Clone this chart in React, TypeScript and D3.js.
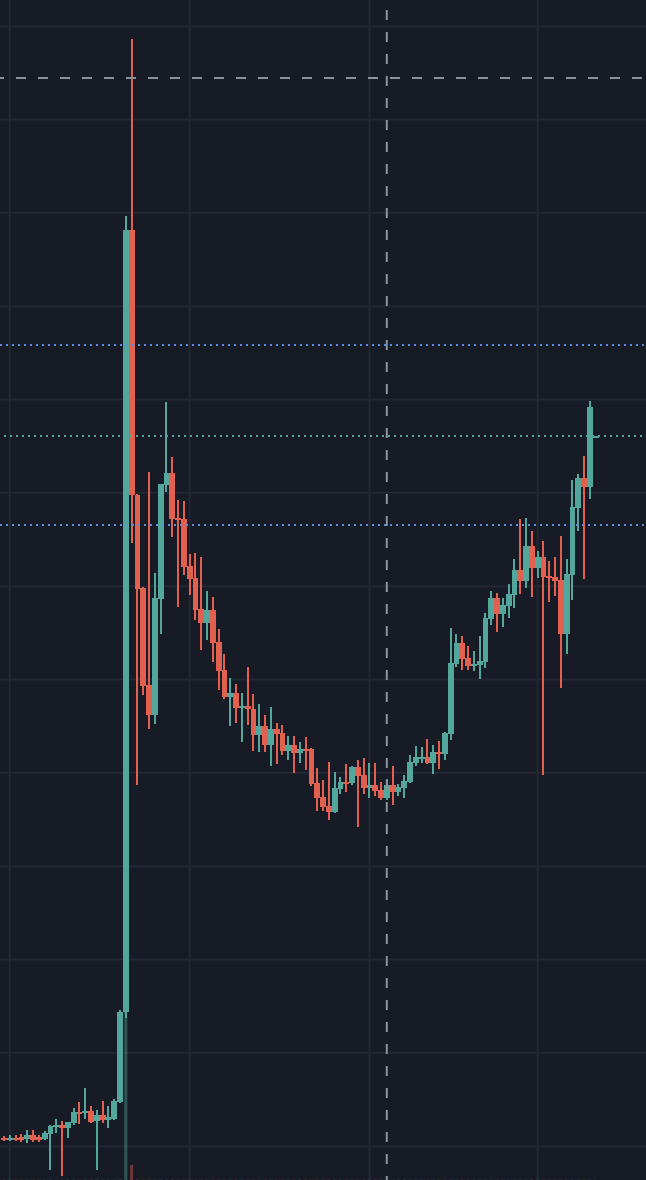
import React from "react";
import * as d3 from "d3";

const W = 646;
const H = 1180;

// OHLC series (price units), one entry per bar
const open = [30.6, 29.85, 30.45, 30.75, 30.15, 31.35, 30.75, 30.15, 31.65, 33.75,
  34.35, 33.45, 34.95, 38.25, 37.95, 38.55, 35.55, 37.35, 35.85, 36.15,
  41.25, 68.25, 302.85, 223.35, 195.45, 166.35, 157.35, 192.15, 226.35, 229.95,
  216.45, 216.15, 202.05, 198.45, 189.15, 184.95, 188.85, 179.25, 170.85, 162.75,
  163.95, 159.45, 160.05, 159.15, 151.35, 154.05, 148.35, 153.15, 151.95, 146.55,
  148.35, 145.95, 147.15, 147.15, 136.95, 132.75, 130.05, 128.25, 135.15, 137.25,
  136.95, 141.75, 139.35, 135.45, 136.35, 134.85, 132.45, 136.35, 134.25, 135.45,
  137.25, 142.95, 144.45, 144.75, 142.95, 146.25, 145.65, 151.65, 172.65, 178.95,
  174.45, 172.05, 172.35, 173.25, 186.15, 192.45, 187.65, 190.05, 193.35, 200.85,
  197.55, 208.05, 201.45, 204.75, 199.05, 198.75, 197.85, 181.65, 199.35, 219.45,
  228.45, 225.75, 240.9];

const high = [31.05, 31.35, 31.26, 31.65, 32.85, 32.85, 31.35, 32.55, 34.35, 36.15,
  35.55, 35.25, 39.45, 41.25, 45.45, 40.05, 38.85, 41.55, 40.05, 42.15,
  68.85, 307.05, 360.15, 223.65, 195.75, 230.25, 199.95, 226.65, 251.25, 234.75,
  221.85, 221.55, 205.65, 205.95, 204.75, 194.55, 192.75, 183.15, 175.65, 168.45,
  166.65, 163.95, 171.75, 163.65, 160.65, 157.35, 159.75, 154.95, 154.35, 151.05,
  151.05, 149.25, 150.75, 147.45, 141.45, 137.85, 143.25, 140.25, 138.75, 142.65,
  142.05, 143.85, 144.45, 142.95, 142.95, 137.25, 138.15, 142.05, 136.65, 139.35,
  145.35, 148.05, 147.75, 150.15, 148.35, 149.55, 152.25, 183.45, 181.65, 181.05,
  178.05, 176.55, 181.05, 187.95, 194.55, 193.95, 192.45, 196.65, 204.15, 216.15,
  216.45, 212.55, 206.55, 209.55, 203.55, 204.75, 211.05, 204.15, 227.85, 229.65,
  235.05, 251.55, 241.05];

const low = [29.55, 29.7, 29.55, 29.25, 28.95, 29.25, 29.25, 30.0, 20.85, 31.95,
  19.05, 30.45, 34.35, 34.65, 36.15, 34.95, 20.85, 34.95, 33.45, 36.0,
  40.95, 66.45, 208.95, 136.35, 163.35, 153.15, 154.65, 181.65, 224.25, 210.75,
  189.75, 199.35, 193.35, 185.85, 176.85, 179.85, 173.25, 164.85, 162.15, 154.05,
  154.95, 149.25, 154.35, 146.55, 146.25, 146.25, 142.05, 142.65, 145.35, 143.85,
  139.95, 142.95, 140.85, 136.05, 128.55, 128.55, 125.85, 127.95, 133.65, 134.25,
  136.35, 123.75, 133.65, 132.45, 133.05, 131.85, 131.85, 130.35, 133.05, 132.45,
  136.95, 142.05, 142.95, 142.65, 139.65, 141.15, 143.85, 149.85, 171.75, 170.85,
  170.85, 170.55, 168.15, 171.45, 184.35, 182.25, 183.75, 186.45, 189.45, 193.65,
  195.45, 192.75, 198.45, 139.35, 191.25, 193.05, 165.45, 175.65, 191.85, 212.55,
  198.15, 222.15, 240.45];

const close = [30.0, 30.45, 29.85, 29.85, 31.35, 29.85, 29.85, 31.95, 34.05, 34.35,
  33.45, 35.25, 38.25, 37.95, 38.55, 35.25, 37.35, 35.85, 36.75, 41.55,
  68.25, 302.85, 223.35, 195.15, 166.05, 157.35, 192.45, 226.65, 229.95, 216.15,
  216.0, 201.75, 198.15, 188.85, 184.95, 188.85, 178.95, 170.55, 162.75, 163.95,
  159.45, 160.05, 159.15, 151.35, 154.05, 148.35, 153.15, 151.65, 146.55, 148.35,
  145.95, 147.15, 146.85, 136.65, 132.45, 129.75, 128.25, 135.45, 137.25, 136.95,
  141.75, 139.05, 135.45, 136.35, 134.55, 132.45, 136.35, 134.25, 135.75, 137.55,
  143.25, 144.75, 144.75, 142.95, 146.25, 145.65, 151.95, 172.95, 178.95, 174.15,
  172.05, 172.65, 173.55, 186.45, 192.45, 187.65, 190.35, 193.65, 200.85, 197.55,
  208.05, 201.45, 204.75, 198.75, 198.45, 197.55, 181.65, 199.65, 219.75, 228.45,
  225.75, 249.75, 241.05];

const volume = [0.1, 0.1, 0.1, 0.1, 0.12, 0.1, 0.1, 0.1, 0.15, 0.1,
  0.15, 0.1, 0.12, 0.1, 0.15, 0.1, 0.15, 0.1, 0.1, 0.12,
  0.18, 100, 6.4, 0.15, 0.1, 0.12, 0.1, 0.12, 0.1, 0.1,
  0.1, 0.1, 0.1, 0.1, 0.1, 0.1, 0.1, 0.1, 0.1, 0.1,
  0.1, 0.1, 0.1, 0.1, 0.1, 0.1, 0.1, 0.1, 0.1, 0.1,
  0.1, 0.1, 0.1, 0.1, 0.1, 0.1, 0.1, 0.1, 0.1, 0.1,
  0.1, 0.1, 0.1, 0.1, 0.1, 0.1, 0.1, 0.1, 0.1, 0.1,
  0.1, 0.1, 0.1, 0.1, 0.1, 0.1, 0.1, 0.12, 0.1, 0.1,
  0.1, 0.1, 0.1, 0.1, 0.1, 0.1, 0.1, 0.1, 0.1, 0.1,
  0.1, 0.1, 0.1, 0.12, 0.1, 0.1, 0.12, 0.1, 0.1, 0.1,
  0.1, 0.1, 0.05];

// time-axis grid ticks (bar indices) and price-axis grid ticks
const timeTicks = [1, 32, 63, 92];
const priceTicks = [28, 56, 84, 112, 140, 168, 196, 224, 252, 280, 308, 336, 364];

// horizontal alert levels and crosshair
const alertLevels = [268.35, 214.35];
const crosshairBar = 66;
const crosshairPrice = 348.45;

const BG = "#171b26";
const GRID = "#232733";
const UP = "#52a69b";
const DOWN = "#e1604f";
const ALERT = "#5b8ee0";
const CROSS = "#8a939d";

export default function App() {
  const n = open.length;
  const idx = d3.range(n);
  const x = d3.scaleBand<number>().domain(idx).range([1.1, 598.5]).padding(0);
  const bw = x.bandwidth();
  const cx = (i: number) => (x(i) as number) + bw / 2;
  const y = d3.scaleLinear().domain([17.85, 371.85]).range([H, 0]);
  const v = d3.scaleLinear().domain([0, 100]).range([H, H - 236]);
  const lastClose = close[n - 1];
  const lastUp = close[n - 1] >= open[n - 1];

  return (
    <svg
      width={W}
      height={H}
      style={{ position: "absolute", left: 0, top: 0, display: "block" }}
    >
      <rect x={0} y={0} width={W} height={H} fill={BG} />
      <g>
        {priceTicks.map((p) => (
          <line key={"h" + p} x1={0} x2={W} y1={y(p)} y2={y(p)} stroke={GRID} strokeWidth={2} />
        ))}
        {timeTicks.map((t) => (
          <line key={"v" + t} x1={cx(t)} x2={cx(t)} y1={0} y2={H} stroke={GRID} strokeWidth={2} />
        ))}
      </g>
      <g>
        {idx.map((i) => {
          const up = close[i] >= open[i];
          const top = v(volume[i]);
          return (
            <rect
              key={"vol" + i}
              x={cx(i) - 1.5}
              y={top}
              width={3}
              height={H - top}
              fill={up ? UP : DOWN}
              opacity={0.42}
            />
          );
        })}
      </g>
      <g shapeRendering="crispEdges">
        {idx.map((i) => {
          const up = close[i] >= open[i];
          const col = up ? UP : DOWN;
          const yTop = y(Math.max(open[i], close[i]));
          const yBot = y(Math.min(open[i], close[i]));
          return (
            <g key={"c" + i}>
              <rect x={cx(i) - 1} y={y(high[i])} width={2} height={y(low[i]) - y(high[i])} fill={col} />
              <rect x={x(i)} y={yTop} width={bw} height={Math.max(yBot - yTop, 1.5)} fill={col} />
            </g>
          );
        })}
      </g>
      <g>
        {alertLevels.map((p) => (
          <line key={"a" + p} x1={0} x2={W} y1={y(p)} y2={y(p)} stroke={ALERT} strokeWidth={2} strokeDasharray="2 4" />
        ))}
        <line x1={4} x2={W} y1={y(lastClose)} y2={y(lastClose)} stroke={lastUp ? UP : DOWN} strokeWidth={2} strokeDasharray="2 4" />
      </g>
      <g>
        <line x1={-6} x2={W} y1={y(crosshairPrice)} y2={y(crosshairPrice)} stroke={CROSS} strokeWidth={2} strokeDasharray="10 12" />
        <line x1={cx(crosshairBar)} x2={cx(crosshairBar)} y1={10} y2={H} stroke={CROSS} strokeWidth={2} strokeDasharray="10 12" />
      </g>
    </svg>
  );
}
